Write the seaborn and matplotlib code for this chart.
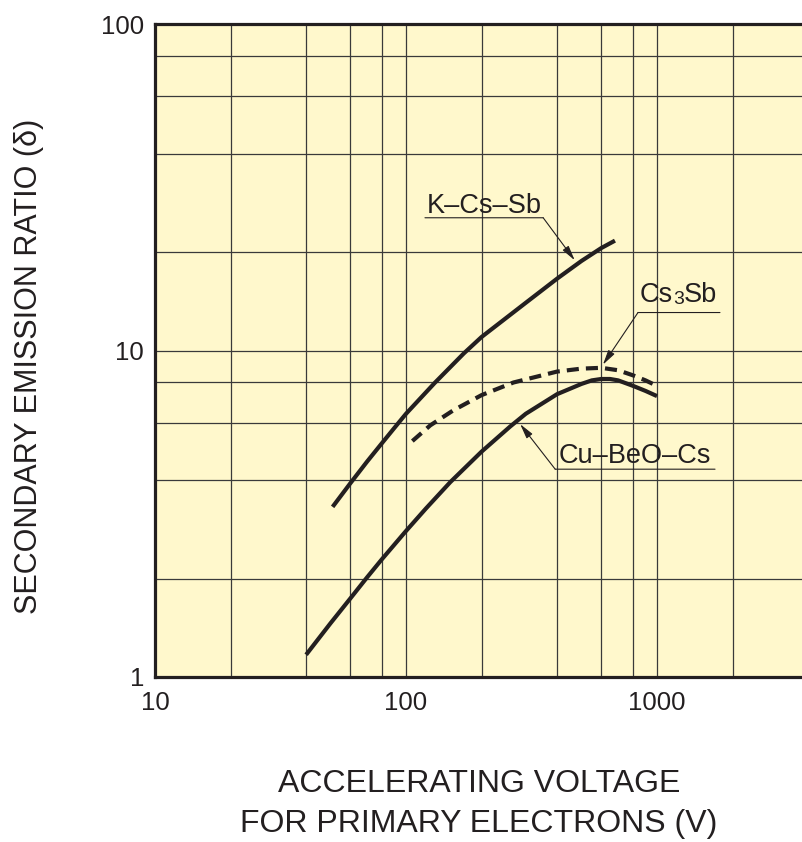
import numpy as np
import pandas as pd
import seaborn as sns
from matplotlib import pyplot as plt

# Curves (log-log axes)
kcssb_v = [51, 60, 70, 80, 90, 100, 130, 170, 200, 300, 400, 500, 600, 680]
kcssb_d = [3.32, 3.92, 4.57, 5.19, 5.8, 6.4, 7.95, 9.8, 11.0, 14.0, 16.6, 18.8, 20.6, 21.7]

cs3sb_v = [106, 125, 154, 200, 268, 400, 500, 600, 700, 800, 900, 980]
cs3sb_d = [5.28, 5.9, 6.55, 7.3, 7.98, 8.62, 8.8, 8.85, 8.7, 8.4, 8.1, 7.85]

cubeo_v = [40, 50, 60, 70, 80, 100, 120, 150, 200, 260, 300, 400, 500,
           550, 600, 650, 700, 800, 900, 1000]
cubeo_d = [1.17, 1.46, 1.74, 2.02, 2.29, 2.8, 3.28, 3.95, 4.9, 5.85, 6.4, 7.35, 7.9,
           8.1, 8.18, 8.18, 8.1, 7.8, 7.52, 7.25]

x_major = [10, 100, 1000]
x_minor = [20, 40, 60, 80, 200, 400, 600, 800, 2000]
y_major = [1, 10, 100]
y_minor = [2, 4, 6, 8, 20, 40, 60, 80]

INK = "#231F20"
BG = "#FFF8CC"


def main():
    sns.set_theme(style="white")
    plt.rcParams["font.family"] = ["Liberation Sans", "DejaVu Sans"]

    fig = plt.figure(figsize=(8.03, 8.42), dpi=100)
    ax = fig.add_axes([155 / 803, 1 - 677 / 842, 648 / 803, 653 / 842])
    ax.set_facecolor(BG)

    k = pd.DataFrame({"v": kcssb_v, "d": kcssb_d})
    c = pd.DataFrame({"v": cs3sb_v, "d": cs3sb_d})
    b = pd.DataFrame({"v": cubeo_v, "d": cubeo_d})

    sns.lineplot(data=k, x="v", y="d", ax=ax, color=INK, lw=3.0,
                 solid_capstyle="butt", solid_joinstyle="round", zorder=3)
    sns.lineplot(data=b, x="v", y="d", ax=ax, color=INK, lw=3.0,
                 solid_capstyle="butt", solid_joinstyle="round", zorder=3)
    sns.lineplot(data=c, x="v", y="d", ax=ax, color=INK, lw=3.0,
                 linestyle=(0, (2.9, 1.7)), dash_capstyle="butt", zorder=3)

    ax.set_xscale("log")
    ax.set_yscale("log")
    ax.set_xlim(10, 10 ** (1 + 648 / 251))
    ax.set_ylim(1, 100)

    ax.set_xticks(x_major)
    ax.set_xticklabels([str(v) for v in x_major])
    ax.set_xticks(x_minor, minor=True)
    ax.set_yticks(y_major)
    ax.set_yticklabels([str(v) for v in y_major])
    ax.set_yticks(y_minor, minor=True)
    ax.tick_params(which="both", length=0, labelsize=18.5, labelcolor=INK)
    ax.tick_params(axis="x", pad=10)
    ax.tick_params(axis="y", pad=8)
    ax.tick_params(which="minor", labelbottom=False, labelleft=False)

    ax.grid(True, which="both", color="#3a3a3a", lw=0.9)
    ax.set_axisbelow(True)

    for s in ["left", "bottom", "top"]:
        ax.spines[s].set_color(INK)
        ax.spines[s].set_linewidth(2.3)
    ax.spines["right"].set_visible(False)

    ax.set_xlabel("ACCELERATING VOLTAGE\nFOR PRIMARY ELECTRONS (V)",
                  fontsize=23, color=INK, linespacing=1.45, va="top")
    ax.xaxis.set_label_coords(0.5, -0.141)
    ax.set_ylabel("SECONDARY EMISSION RATIO (δ)", fontsize=22, color=INK)
    ax.yaxis.set_label_coords(-0.172, 0.476)

    # labels with underline and leader arrow
    lead = dict(arrowstyle="-|>,head_length=0.9,head_width=0.22",
                color=INK, lw=0.8, shrinkA=0, shrinkB=0, mutation_scale=10)
    rule = dict(arrowstyle="-", color=INK, lw=0.8, shrinkA=0, shrinkB=0)

    ax.text(121, 26.4, "K\u2013Cs\u2013Sb", fontsize=19.5, color=INK)
    ax.annotate("", xy=(352, 25.5), xytext=(119, 25.5), arrowprops=rule)
    ax.annotate("", xy=(470, 18.9), xytext=(352, 25.5), arrowprops=lead)

    t1 = ax.text(855, 13.5, "Cs", fontsize=19.5, color=INK, va="bottom")
    t2 = ax.annotate("3", xy=(1, 0), xycoords=t1, fontsize=14, color=INK,
                     va="bottom", ha="left")
    ax.annotate("Sb", xy=(1, 0), xycoords=t2, fontsize=19.5, color=INK,
                va="bottom", ha="left")
    ax.annotate("", xy=(1782, 13.07), xytext=(840, 13.07), arrowprops=rule)
    ax.annotate("", xy=(609, 9.05), xytext=(840, 13.07), arrowprops=lead)

    ax.text(404, 4.51, "Cu\u2013BeO\u2013Cs", fontsize=19.5, color=INK)
    ax.annotate("", xy=(1703, 4.33), xytext=(393, 4.33), arrowprops=rule)
    ax.annotate("", xy=(285, 5.95), xytext=(393, 4.33), arrowprops=lead)

    fig.savefig("out.png", dpi=100)


if __name__ == "__main__":
    main()
